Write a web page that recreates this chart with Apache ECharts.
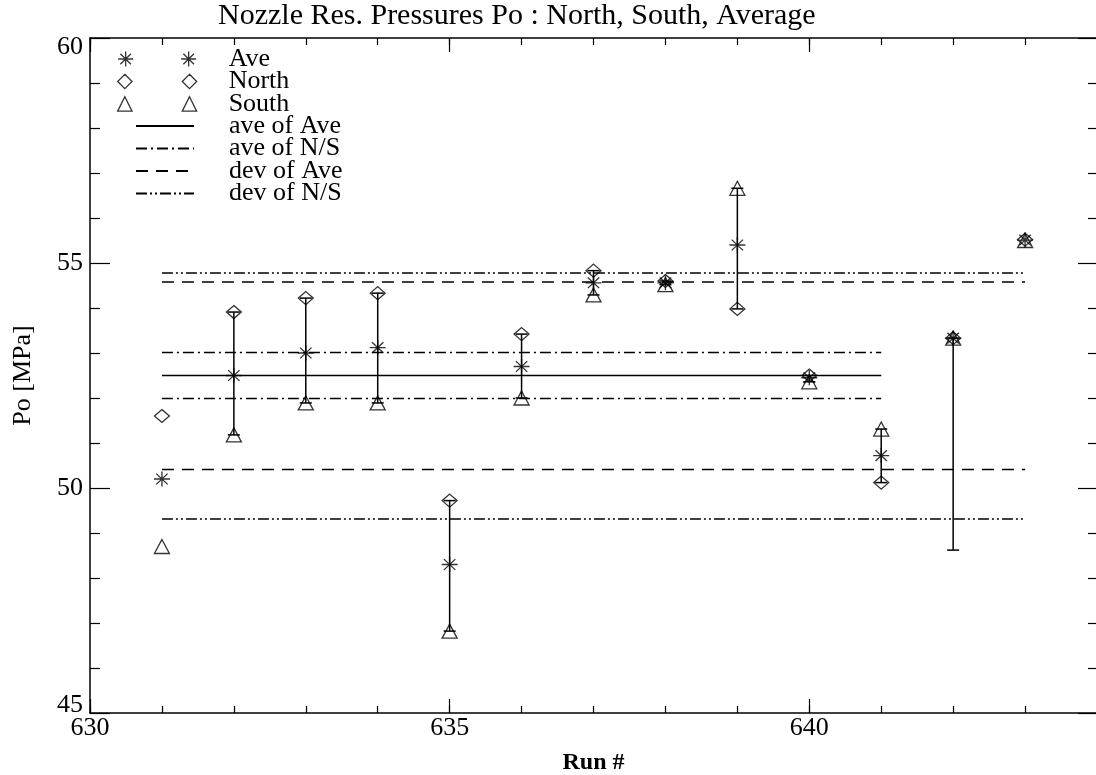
<!DOCTYPE html>
<html>
<head>
<meta charset="utf-8">
<script src="https://cdn.jsdelivr.net/npm/echarts@6.0.0/dist/echarts.min.js"></script>
<style>
  html, body { margin: 0; padding: 0; background: #fff; }
  #chart { width: 1096px; height: 775px; }
</style>
</head>
<body>
<div id="chart"></div>
<script>
// Run numbers and measured pressures (MPa)
const runs  = [631, 632, 633, 634, 635, 636, 637, 638, 639, 640, 641, 642, 643];
const north = [51.60, 53.91, 54.22, 54.33, 49.72, 53.42, 54.83, 54.60, 53.98, 52.50, 50.12, 53.33, 55.52];
const south = [48.70, 51.18, 51.89, 51.89, 46.82, 52.00, 54.29, 54.52, 56.66, 52.36, 51.31, 53.33, 55.50];
const ave   = [50.20, 52.50, 53.00, 53.12, 48.30, 52.70, 54.56, 54.56, 55.40, 52.45, 50.72, 53.33, 55.51];

// vertical range bars joining North/South (none at 631 and 643)
const barLow  = [null, 51.18, 51.89, 51.89, 46.82, 52.00, 54.29, 54.52, 53.98, 52.36, 50.12, 48.62, null];
const barHigh = [null, 53.91, 54.22, 54.33, 49.72, 53.42, 54.83, 54.60, 56.66, 52.50, 51.31, 53.33, null];

// horizontal reference levels
const aveOfAve = [52.50];
const aveOfNS  = [53.01, 51.99];
const devOfAve = [54.58, 50.41];
const devOfNS  = [54.78, 49.31];
const shortSpan = [631, 641];
const longSpan  = [631, 643];

// axis ticks
const xLabels = [630, 635, 640];
const yLabels = [45, 50, 55, 60];

const SERIF = 'Liberation Serif';
const BLACK = '#000';

const starPath = 'path://M8,0L8,16M0,8L16,8M2.3,2.3L13.7,13.7M2.3,13.7L13.7,2.3';
const legendIcons = {
  Ave: 'path://M8,0L8,15M0.5,7.5L15.5,7.5M2.7,2.2L13.3,12.8M2.7,12.8L13.3,2.2M71,0L71,15M63.5,7.5L78.5,7.5M65.7,2.2L76.3,12.8M65.7,12.8L76.3,2.2',
  North: 'path://M8,0L15,7L8,14L1,7ZM71,0L78,7L71,14L64,7Z',
  South: 'path://M8,0L15,14L1,14ZM71,0L78,14L64,14Z'
};

const dashTypes = {
  'ave of Ave': 'solid',
  'ave of N/S': [11, 4, 2, 4],
  'dev of Ave': [12, 8],
  'dev of N/S': [11, 3, 2, 3, 2, 3]
};

function refLines(name, levels, span) {
  return levels.map(v => ({
    type: 'line',
    name: name,
    color: BLACK,
    data: [[span[0], v], [span[1], v]],
    symbol: 'none',
    silent: true,
    lineStyle: { color: BLACK, width: 1.5, type: dashTypes[name] },
    z: 2
  }));
}

const barData = runs
  .map((r, i) => (barLow[i] == null ? null : [r, barLow[i], barHigh[i]]))
  .filter(d => d);

const markerStyle = { color: 'rgba(0,0,0,0)', borderColor: BLACK, borderWidth: 1.3 };

const chart = echarts.init(document.getElementById('chart'), null, { renderer: 'canvas' });

chart.setOption({
  animation: false,
  backgroundColor: '#fff',
  title: {
    text: 'Nozzle Res. Pressures Po : North, South, Average',
    left: 218,
    top: 1,
    padding: 0,
    textStyle: { fontFamily: SERIF, fontSize: 30, fontWeight: 'normal', color: BLACK }
  },
  legend: [
    {
      data: ['Ave', 'North', 'South'].map(n => ({ name: n, icon: legendIcons[n] })),
      orient: 'vertical',
      left: 117,
      top: 46,
      padding: 0,
      itemGap: -3.5,
      itemWidth: 79,
      itemHeight: 15,
      selectedMode: false,
      itemStyle: { color: 'rgba(0,0,0,0)', borderColor: BLACK, borderWidth: 1.3 },
      textStyle: { fontFamily: SERIF, fontSize: 26, lineHeight: 22.5, color: BLACK, padding: [0, 0, 0, 27] }
    },
    {
      data: ['ave of Ave', 'ave of N/S', 'dev of Ave', 'dev of N/S'],
      orient: 'vertical',
      left: 135,
      top: 113,
      padding: 0,
      itemGap: -3.5,
      itemWidth: 58,
      itemHeight: 15,
      selectedMode: false,
      itemStyle: { opacity: 0 },
      textStyle: { fontFamily: SERIF, fontSize: 26, lineHeight: 22.5, color: BLACK, padding: [0, 0, 0, 30] }
    }
  ],
  grid: {
    left: 90,
    top: 38,
    width: 1007,
    height: 675,
    containLabel: false,
    outerBoundsMode: 'none'
  },
  xAxis: [
    {
      type: 'value', position: 'bottom', min: 630, max: 644, interval: 1,
      axisLine: { show: true, lineStyle: { color: BLACK, width: 1.5 } },
      axisTick: { show: true, inside: true, length: 7, lineStyle: { color: BLACK, width: 1.2 } },
      axisLabel: {
        margin: 2,
        fontFamily: SERIF, fontSize: 26, color: BLACK,
        formatter: v => (xLabels.includes(v) ? String(v) : '')
      },
      splitLine: { show: false },
      name: 'Run #',
      nameLocation: 'middle',
      nameGap: 38,
      nameTextStyle: { fontFamily: SERIF, fontSize: 24, fontWeight: 'bold', color: BLACK }
    },
    {
      type: 'value', position: 'bottom', min: 630, max: 644, interval: 5,
      axisLine: { show: false },
      axisTick: { show: true, inside: true, length: 14, lineStyle: { color: BLACK, width: 1.2 } },
      axisLabel: { show: false },
      splitLine: { show: false }
    },
    {
      type: 'value', position: 'top', min: 630, max: 644, interval: 1,
      axisLine: { show: true, lineStyle: { color: BLACK, width: 1.5 } },
      axisTick: { show: true, inside: true, length: 7, lineStyle: { color: BLACK, width: 1.2 } },
      axisLabel: { show: false },
      splitLine: { show: false }
    },
    {
      type: 'value', position: 'top', min: 630, max: 644, interval: 5,
      axisLine: { show: false },
      axisTick: { show: true, inside: true, length: 14, lineStyle: { color: BLACK, width: 1.2 } },
      axisLabel: { show: false },
      splitLine: { show: false }
    }
  ],
  yAxis: [
    {
      type: 'value', position: 'left', min: 45, max: 60, interval: 5,
      axisLine: { show: true, lineStyle: { color: BLACK, width: 1.5 } },
      axisTick: { show: true, inside: true, length: 20, lineStyle: { color: BLACK, width: 1.2 } },
      minorTick: { show: true, splitNumber: 5, length: 10, lineStyle: { color: BLACK, width: 1.2 } },
      axisLabel: {
        margin: 7,
        fontFamily: SERIF, fontSize: 26, color: BLACK,
        formatter: v => {
          if (!yLabels.includes(v)) return '';
          if (v === 60) return '{t|' + v + '}';
          if (v === 45) return '{b|' + v + '}';
          return String(v);
        },
        rich: {
          t: { fontFamily: SERIF, fontSize: 26, color: BLACK, padding: [18, 0, 0, 0] },
          b: { fontFamily: SERIF, fontSize: 26, color: BLACK, padding: [0, 0, 16, 0] }
        }
      },
      splitLine: { show: false },
      name: 'Po [MPa]',
      nameLocation: 'middle',
      nameGap: 54,
      nameTextStyle: { fontFamily: SERIF, fontSize: 26, color: BLACK }
    },
    {
      type: 'value', position: 'right', min: 45, max: 60, interval: 5,
      axisLine: { show: true, lineStyle: { color: BLACK, width: 1.5 } },
      axisTick: { show: true, inside: true, length: 19, lineStyle: { color: BLACK, width: 1.2 } },
      minorTick: { show: true, splitNumber: 5, length: 9, lineStyle: { color: BLACK, width: 1.2 } },
      axisLabel: { show: false },
      splitLine: { show: false }
    }
  ],
  series: [
    ...refLines('ave of Ave', aveOfAve, shortSpan),
    ...refLines('ave of N/S', aveOfNS, shortSpan),
    ...refLines('dev of Ave', devOfAve, longSpan),
    ...refLines('dev of N/S', devOfNS, longSpan),
    {
      type: 'custom',
      name: 'range',
      silent: true,
      z: 3,
      data: barData,
      renderItem: (params, api) => {
        const lo = api.coord([api.value(0), api.value(1)]);
        const hi = api.coord([api.value(0), api.value(2)]);
        const st = { stroke: BLACK, lineWidth: 1.5 };
        const cap = 6;
        return {
          type: 'group',
          children: [
            { type: 'line', shape: { x1: lo[0], y1: lo[1], x2: hi[0], y2: hi[1] }, style: st },
            { type: 'line', shape: { x1: lo[0] - cap, y1: lo[1], x2: lo[0] + cap, y2: lo[1] }, style: st },
            { type: 'line', shape: { x1: hi[0] - cap, y1: hi[1], x2: hi[0] + cap, y2: hi[1] }, style: st }
          ]
        };
      }
    },
    {
      type: 'scatter',
      name: 'North',
      data: runs.map((r, i) => [r, north[i]]),
      symbol: 'diamond',
      symbolSize: [15, 13],
      itemStyle: markerStyle,
      z: 4
    },
    {
      type: 'scatter',
      name: 'South',
      data: runs.map((r, i) => [r, south[i]]),
      symbol: 'triangle',
      symbolSize: [15, 14],
      itemStyle: markerStyle,
      z: 4
    },
    {
      type: 'scatter',
      name: 'Ave',
      data: runs.map((r, i) => [r, ave[i]]),
      symbol: starPath,
      symbolSize: [16, 15],
      itemStyle: markerStyle,
      z: 5
    }
  ]
});
</script>
</body>
</html>
